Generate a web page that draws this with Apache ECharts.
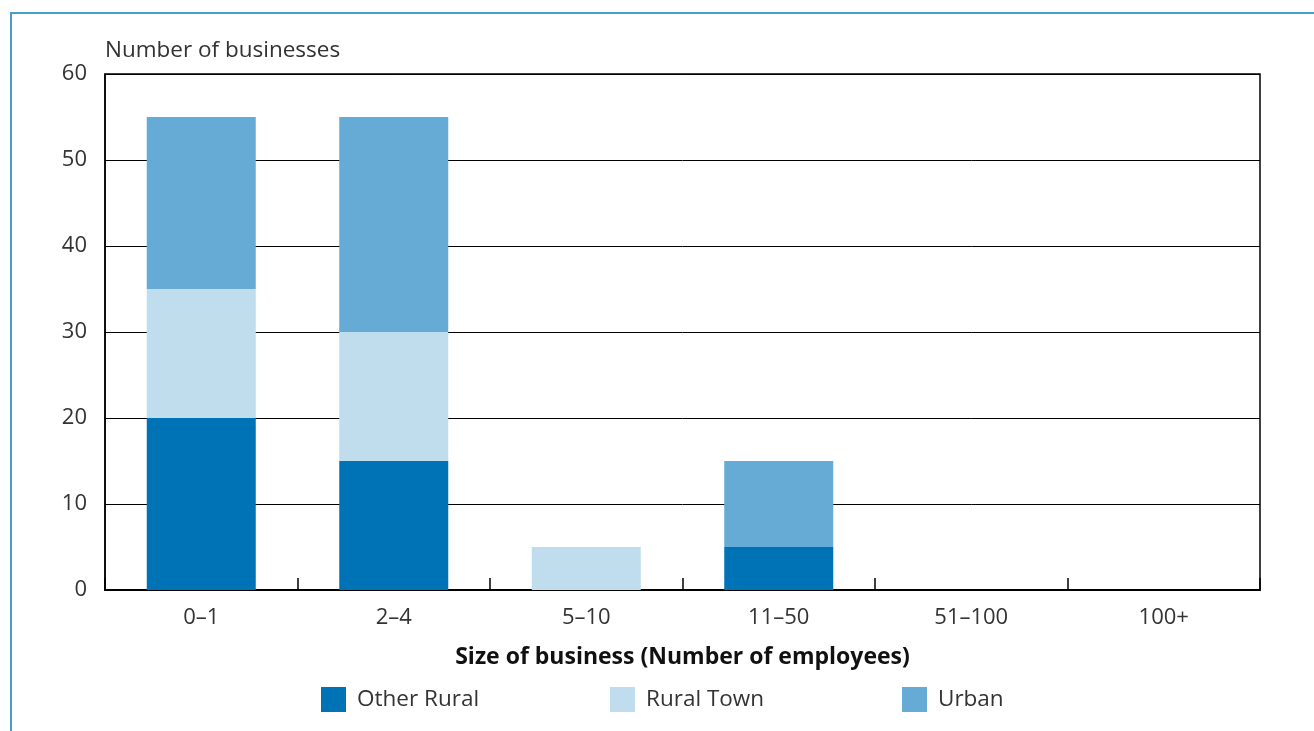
<!DOCTYPE html>
<html><head><meta charset="utf-8">
<script src="https://cdn.jsdelivr.net/npm/echarts@6/dist/echarts.min.js"></script>
<style>html,body{margin:0;padding:0;background:#fff}#c{width:1314px;height:731px}</style>
</head><body><div id="c"></div>
<script>
const categories = ['0–1','2–4','5–10','11–50','51–100','100+'];
const otherRural = [20,15,0,5,0,0];
const ruralTown = [15,15,5,0,0,0];
const urban = [20,25,0,10,0,0];
const yTicks = {min:0,max:60,interval:10};

const font = '"Open Sans", "Noto Sans", sans-serif';
const chart = echarts.init(document.getElementById('c'));
const mk = (name, data, color) => ({
  name, type:'bar', stack:'a', data, barWidth:109,
  itemStyle:{color}, emphasis:{disabled:true}
});
const legTxt = {fontSize:22.5, color:'#333', fontFamily:font, padding:[0,0,0,6]};
chart.setOption({
  animation:false,
  textStyle:{fontFamily:font},
  graphic:[{type:'rect', shape:{x:11,y:13,width:1400,height:800},
    style:{fill:'none', stroke:'#4a9bd0', lineWidth:2}, silent:true}],
  grid:{left:105, right:54, top:74, bottom:141, show:true, borderColor:'#000', borderWidth:1.5, containLabel:false},
  legend:[
    {data:['Other Rural'], left:316, top:682, itemWidth:25, itemHeight:25, itemGap:11,
     textStyle:legTxt, icon:'rect', selectedMode:false},
    {data:['Rural Town'], left:605, top:682, itemWidth:25, itemHeight:25,
     textStyle:legTxt, icon:'rect', selectedMode:false},
    {data:['Urban'], left:897, top:682, itemWidth:25, itemHeight:25,
     textStyle:legTxt, icon:'rect', selectedMode:false}
  ],
  xAxis:{type:'category', data:categories,
    axisLine:{lineStyle:{color:'#000', width:2}},
    axisTick:{show:true, inside:true, length:12, lineStyle:{color:'#000', width:1.5}},
    axisLabel:{fontSize:22, color:'#333', margin:17, fontFamily:font},
    name:'Size of business (Number of employees)', nameLocation:'middle', nameGap:56,
    nameTextStyle:{fontSize:23, fontWeight:'bold', color:'#111', fontFamily:font}
  },
  yAxis:{type:'value', min:yTicks.min, max:yTicks.max, interval:yTicks.interval,
    axisLine:{show:true, lineStyle:{color:'#000', width:1.5}},
    axisTick:{show:false},
    axisLabel:{fontSize:22, color:'#333', margin:18, fontFamily:font, padding:[0,0,5,0]},
    splitLine:{lineStyle:{color:'#000', width:1}},
    name:'Number of businesses', nameLocation:'end', nameGap:12,
    nameTextStyle:{fontSize:22.5, color:'#333', align:'left', fontFamily:font}
  },
  series:[
    mk('Other Rural', otherRural, '#0072b6'),
    mk('Rural Town', ruralTown, '#c0ddee'),
    mk('Urban', urban, '#66abd5')
  ]
});
</script></body></html>
